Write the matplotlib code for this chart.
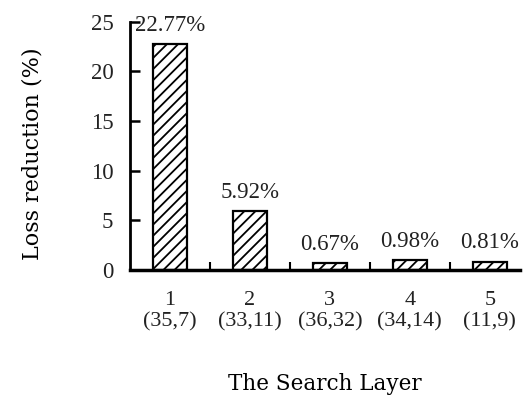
import numpy as np
import matplotlib.pyplot as plt

plt.rcParams['font.family'] = ['Liberation Serif', 'DejaVu Serif']
plt.rcParams['hatch.linewidth'] = 1.3

##==============================================================================

# Data

layers = ['1', '2', '3', '4', '5']
cells = ['(35,7)', '(33,11)', '(36,32)', '(34,14)', '(11,9)']
reduction = [22.77, 5.92, 0.67, 0.98, 0.81]

##==============================================================================

# Plotting

fig = plt.figure(figsize=(5.24, 3.98), dpi=100)
ax = fig.add_axes([0.248, 0.322, 0.744, 0.623])

x = np.arange(len(layers))
ax.bar(x, reduction, width=0.42, color='white', edgecolor='black',
       lw=1.6, hatch='///')

for xi, v in zip(x, reduction):
    ax.annotate(f'{v:.2f}%', (xi, v), xytext=(0, 6), textcoords='offset points',
                ha='center', va='bottom', fontsize=16.5, color='#222',
                annotation_clip=False)

ax.set_xlim(-0.5, 4.375)
ax.set_ylim(0, 25)
ax.set_yticks([0, 5, 10, 15, 20, 25])

ax.set_xticks(x)
ax.set_xticklabels([f'{a}\n{b}' for a, b in zip(layers, cells)],
                   fontsize=16, color='#222', linespacing=1.15)
ax.set_xticks(np.arange(0.5, 4, 1), minor=True)
ax.tick_params(axis='x', which='major', length=0, pad=15)
ax.tick_params(axis='x', which='minor', direction='in', length=6, width=1.5)
ax.tick_params(axis='y', direction='in', length=7, width=1.8,
               labelsize=16.5, labelcolor='#222', pad=12)

for s in ['top', 'right']:
    ax.spines[s].set_visible(False)
ax.spines['left'].set_linewidth(2)
ax.spines['bottom'].set_linewidth(2.5)

ax.set_xlabel('The Search Layer', family='DejaVu Serif', fontsize=15.5, labelpad=30)
ax.set_ylabel('Loss reduction (%)', family='DejaVu Serif', fontsize=16)
ax.yaxis.set_label_coords(-0.223, 0.47)

fig.savefig('out.png', dpi=100)
